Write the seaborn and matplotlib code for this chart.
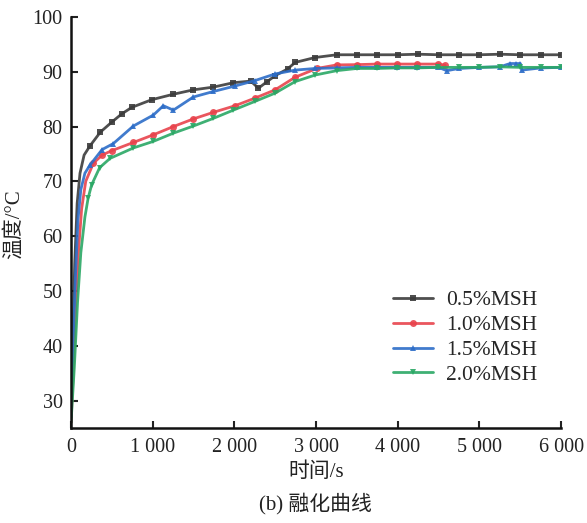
import numpy as np
import pandas as pd
import matplotlib
matplotlib.use("Agg")
import matplotlib.pyplot as plt
import seaborn as sns

# ---- data ----
labels = ["0.5%MSH", "1.0%MSH", "1.5%MSH", "2.0%MSH"]

t_05 = [0, 20, 45, 75, 110, 160, 233, 360, 498, 620, 743, 988, 1253, 1498, 1743, 1987,
        2200, 2294, 2400, 2500, 2650, 2743, 2988, 3253, 3500, 3750, 4000, 4250, 4500,
        4750, 5000, 5250, 5500, 5750, 6000]
y_05 = [27, 40, 55, 66, 71.5, 74.8, 76.5, 79, 80.8, 82.3, 83.5, 84.9, 85.9, 86.7, 87.2, 88.0,
        88.3, 87.0, 88.2, 89.3, 90.5, 91.7, 92.6, 93.1, 93.1, 93.1, 93.1, 93.2, 93.1,
        93.1, 93.1, 93.2, 93.1, 93.1, 93.1]

t_10 = [0, 30, 60, 90, 130, 180, 273, 380, 498, 763, 1008, 1253, 1498, 1743, 2008, 2253,
        2498, 2743, 3008, 3253, 3498, 3743, 3988, 4233, 4498, 4580]
y_10 = [26, 36, 48, 57, 65, 70, 73.3, 74.8, 75.6, 77.1, 78.5, 80.0, 81.4, 82.6, 83.8, 85.2,
        86.7, 89.0, 90.6, 91.25, 91.3, 91.4, 91.4, 91.4, 91.4, 91.2]

t_15 = [0, 25, 55, 85, 120, 170, 233, 380, 518, 763, 1008, 1130, 1253, 1498, 1743, 2008,
        2253, 2498, 2743, 2988, 3253, 3498, 3743, 3988, 4233, 4498, 4600, 4750, 5000,
        5250, 5375, 5450, 5500, 5518, 5750, 6000]
y_15 = [27, 40, 53, 63, 68.5, 71.5, 73, 75.8, 76.9, 80.1, 82.1, 83.8, 83.0, 85.4, 86.4, 87.4,
        88.4, 89.6, 90.3, 90.6, 90.7, 90.8, 90.8, 90.8, 90.8, 90.8, 90.2, 90.6, 90.8,
        90.9, 91.5, 91.5, 91.5, 90.3, 90.7, 90.8]

t_20 = [0, 40, 80, 120, 170, 210, 253, 350, 478, 763, 1008, 1253, 1498, 1743, 1987, 2253,
        2498, 2743, 2988, 3253, 3498, 3743, 3988, 4233, 4498, 4750, 5000, 5250, 5500,
        5750, 6000]
y_20 = [26, 36, 48, 57, 63.5, 67, 69.4, 72.5, 74.2, 76.1, 77.3, 78.8, 80.1, 81.5, 83.0, 84.6,
        86.1, 88.2, 89.4, 90.2, 90.6, 90.6, 90.7, 90.7, 90.8, 90.8, 90.8, 90.9, 90.8,
        90.8, 90.8]

x_ticks = [0, 1000, 2000, 3000, 4000, 5000, 6000]
x_ticklabels = ["0", "1 000", "2 000", "3 000", "4 000", "5 000", "6 000"]
y_ticks = [30, 40, 50, 60, 70, 80, 90, 100]

# ---- style ----
sns.set_style("ticks")
plt.rcParams["font.family"] = ["Liberation Serif", "Noto Sans CJK SC"]
plt.rcParams["axes.unicode_minus"] = False

colors = ["#3c3c3c", "#e8434c", "#2c6dc8", "#2aa865"]
markers = ["s", "o", "^", "v"]

fig = plt.figure(figsize=(5.87, 5.23), dpi=100)
ax = fig.add_axes([0.121, 0.1816, 0.835, 0.786])

series = [(t_05, y_05), (t_10, y_10), (t_15, y_15), (t_20, y_20)]
for (t, y), lab, c, m in zip(series, labels, colors, markers):
    df = pd.DataFrame({"t": t, "T": y})
    mk = [i for i, tv in enumerate(t) if tv >= 200]
    sns.lineplot(data=df, x="t", y="T", ax=ax, color=c, marker=m, markersize=5,
                 markeredgewidth=0, linewidth=2.0, alpha=0.9, label=lab,
                 markevery=mk, sort=False)

ax.set_xlim(0, 6000)
ax.set_ylim(25, 100)
ax.set_xticks(x_ticks)
ax.set_xticklabels(x_ticklabels)
ax.set_yticks(y_ticks)
ax.tick_params(direction="in", length=5, width=1.5, labelsize=14.5, colors="#222222")
ax.tick_params(axis="x", pad=7)
ax.tick_params(axis="y", pad=6)
for s in ["top", "right"]:
    ax.spines[s].set_visible(False)
for s in ["left", "bottom"]:
    ax.spines[s].set_linewidth(1.8)
    ax.spines[s].set_color("#111111")

ax.set_xlabel("时间/s", fontsize=15, labelpad=4, color="#222222")
ax.set_ylabel("温度/°C", fontsize=15, color="#222222")
ax.yaxis.set_label_coords(-0.096, 0.495)

leg = ax.legend(loc="upper left", bbox_to_anchor=(0.618, 0.382), frameon=False,
                fontsize=15.5, handlelength=1.85, labelspacing=0.22, handletextpad=0.6)

fig.text(0.537, 0.016, "(b) 融化曲线", ha="center", va="bottom", fontsize=15, color="#222222")

fig.savefig("out.png", dpi=100)
